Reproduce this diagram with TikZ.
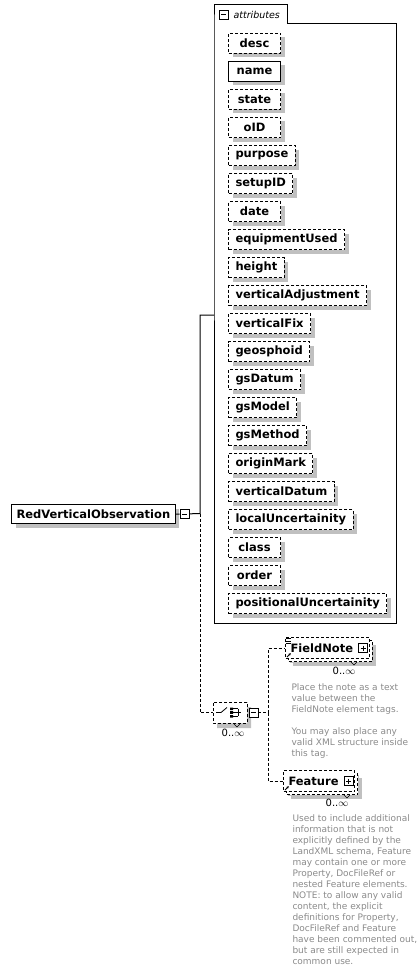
\documentclass[tikz,border=0pt]{standalone}
\usepackage{fontspec}
\setmainfont{DejaVu Sans}
\usetikzlibrary{positioning,shadows,shapes.misc,arrows.meta}
\definecolor{ShadeGray}{HTML}{C0C0C0}
\definecolor{DocGray}{HTML}{8A8A8A}

\begin{document}
\begin{tikzpicture}[x=1pt,y=-1pt,line width=1pt,
    conn/.style={draw=black,line width=1pt},
    optconn/.style={conn,dash pattern=on 3pt off 2pt},
    box/.style={draw,fill=white,inner xsep=7pt,inner ysep=0pt,minimum height=20pt,minimum width=52pt,
      anchor=north west,font=\bfseries\fontsize{11.5}{13}\selectfont,
      drop shadow={shadow xshift=4pt,shadow yshift=-4pt,fill=ShadeGray,opacity=1}},
    attreq/.style={box},
    attopt/.style={box,dash pattern=on 3pt off 2pt},
    multibox/.style={box,minimum height=21pt,inner xsep=5pt,dash pattern=on 3pt off 2pt,
      drop shadow={shadow xshift=7pt,shadow yshift=-7pt,fill=ShadeGray,opacity=1},
      copy shadow={shadow xshift=3pt,shadow yshift=-3pt,line width=1pt,dash pattern=on 3pt off 2pt}},
    compositor/.style={chamfered rectangle,chamfered rectangle xsep=5pt,chamfered rectangle ysep=5pt,
      draw,fill=white,dash pattern=on 3pt off 2pt,minimum width=34pt,minimum height=21pt,inner sep=0pt,
      drop shadow={shadow xshift=4pt,shadow yshift=-5pt,fill=ShadeGray,opacity=1}},
    toggle/.style={draw,fill=white,minimum size=9pt,inner sep=0pt,line width=0.8pt},
    minusbox/.style={toggle,path picture={
      \draw[line width=0.8pt] ([xshift=2pt]path picture bounding box.west) -- ([xshift=-2pt]path picture bounding box.east);}},
    plusbox/.style={toggle,path picture={
      \draw[line width=0.8pt] ([xshift=2pt]path picture bounding box.west) -- ([xshift=-2pt]path picture bounding box.east);
      \draw[line width=0.8pt] ([yshift=-2pt]path picture bounding box.north) -- ([yshift=2pt]path picture bounding box.south);}},
    occ/.style={inner sep=0pt,font=\fontsize{10}{12}\selectfont},
    doc/.style={inner sep=0pt,anchor=north west,align=left,text=DocGray,font=\fontsize{9}{11}\selectfont},
    refmark/.style={-{Latex[length=2.5pt,width=2.5pt]},line width=0.8pt}
  ]
  \useasboundingbox (0,0) rectangle (418,971);

  % attribute group
  \draw[line width=1pt] (214,24) |- (287,5) |- (396,24) |- (214,623) -- cycle;
  \node[minusbox] (attrtoggle) at (223.5,14.5) {};
  \node[anchor=west,inner sep=0pt,font=\itshape\fontsize{9.5}{11}\selectfont] (attrlabel) at (233,14.5) {attributes};
  \foreach \lbl/\sty [count=\i from 0] in {desc/attopt,name/attreq,state/attopt,oID/attopt,purpose/attopt,
      setupID/attopt,date/attopt,equipmentUsed/attopt,height/attopt,verticalAdjustment/attopt,
      verticalFix/attopt,geosphoid/attopt,gsDatum/attopt,gsModel/attopt,gsMethod/attopt,
      originMark/attopt,verticalDatum/attopt,localUncertainity/attopt,class/attopt,order/attopt,
      positionalUncertainity/attopt}
    \node[\sty] (att-\lbl) at (228,33+28*\i) {\lbl};
  \coordinate (attrin) at (214,315);

  % element
  \node[box,minimum height=19pt,inner xsep=5pt] (rvo) at (11,504) {RedVerticalObservation};
  \node[minusbox,right=4pt of rvo] (rvotoggle) {};
  \coordinate (rvojoin) at (200,513.5);

  % choice
  \node[compositor] (choice) at (230,712.5) {};
  \begin{scope}[shift={(choice.center)},line width=0.8pt]
    \draw (-14,0) -- (-9,0) -- (-3,-5);
    \fill (0,-5) rectangle (3,-2.5) (0,-1.3) rectangle (3,1.3) (0,2.5) rectangle (3,5);
    \draw (3,-3.7) -- (8,-3.7) (3,0) -- (11,0) (3,3.7) -- (8,3.7) (8,-3.7) -- (8,3.7);
  \end{scope}
  \node[minusbox,right=1pt of choice] (choicetoggle) {};
  \coordinate (choicejoin) at (268,712.5);
  \node[occ] (choiceocc) at (233,733) {0..$\infty$};
  \draw[line width=0.6pt] (234,724) -- (237,727) -- (240,724);

  % children
  \node[multibox] (fieldnote) at (285,637) {FieldNote\kern11pt};
  \node[plusbox] (fieldnotetoggle) at ([xshift=-6.5pt]fieldnote.east) {};
  \draw[line width=0.7pt] (285.5,638.5) -- (290.5,638.5) (285.5,641) -- (290.5,641) (285.5,643.5) -- (290.5,643.5);
  \draw[refmark] (287,657) -- (291,653);
  \draw[line width=0.6pt] (351,662) -- (354,665) -- (357,662);
  \node[occ] (fieldnoteocc) at (344,671) {0..$\infty$};
  \node[doc] (fieldnotedoc) at (291,683) {Place the note as a text\\value between the\\FieldNote element tags.\\[11pt]You may also place any\\valid XML structure inside\\this tag.};

  \node[multibox] (feature) at (283,770) {Feature\kern11pt};
  \node[plusbox] (featuretoggle) at ([xshift=-6.5pt]feature.east) {};
  \draw[refmark] (285,790) -- (289,786);
  \draw[line width=0.6pt] (344,795) -- (347,798) -- (350,795);
  \node[occ] (featureocc) at (337,803) {0..$\infty$};
  \node[doc] (featuredoc) at (292,814) {Used to include additional\\information that is not\\explicitly defined by the\\LandXML schema, Feature\\may contain one or more\\Property, DocFileRef or\\nested Feature elements.\\NOTE: to allow any valid\\content, the explicit\\definitions for Property,\\DocFileRef and Feature\\have been commented out,\\but are still expected in\\common use.};

  % connectors
  \draw[conn] (rvo) -- (rvotoggle) -- (rvojoin) |- (attrin);
  \draw[optconn] (rvojoin) |- (choice);
  \draw[optconn] (choicetoggle) -- (choicejoin);
  \draw[optconn] (choicejoin) |- (fieldnote);
  \draw[optconn] (choicejoin) |- (feature);
\end{tikzpicture}
\end{document}
